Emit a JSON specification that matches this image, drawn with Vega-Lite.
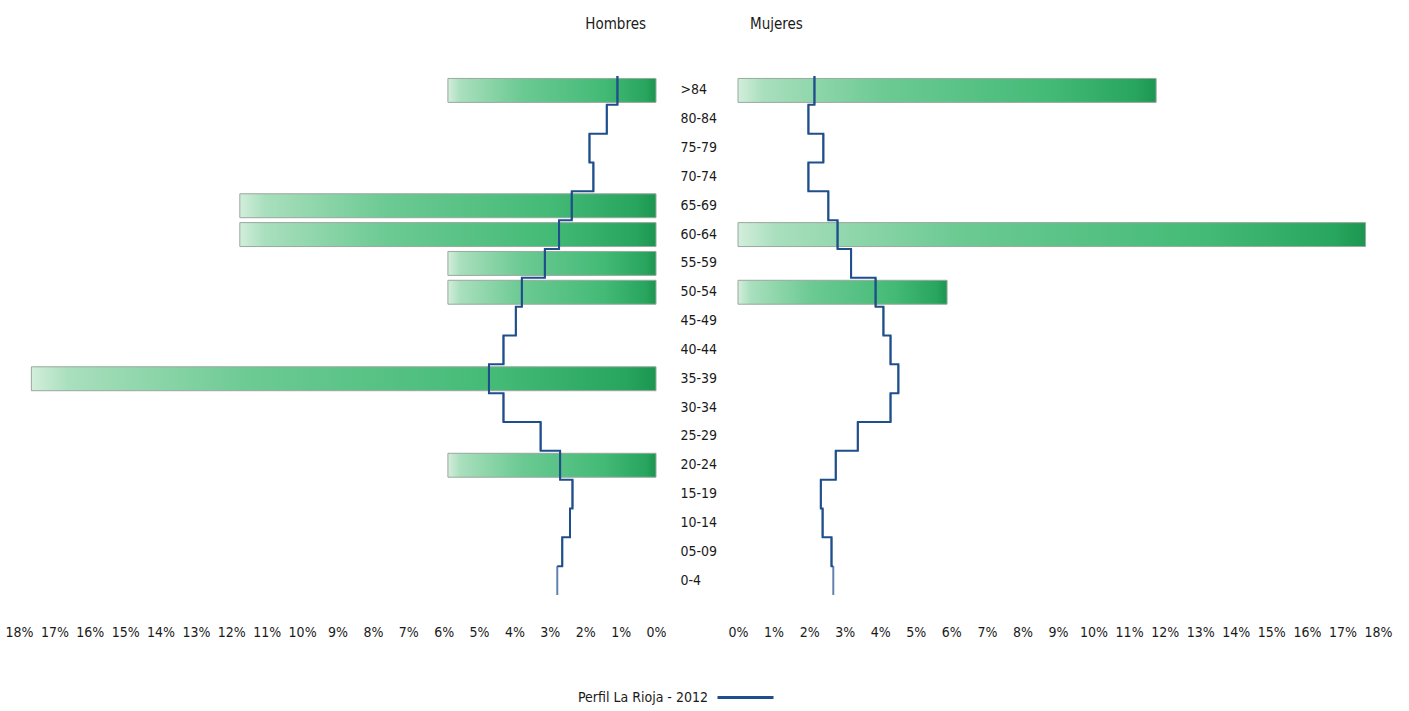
{
  "$schema": "https://vega.github.io/schema/vega-lite/v6.json",
  "background": "white",
  "padding": {"top": 17, "left": 5, "right": 5, "bottom": 5},
  "bounds": "flush",
  "spacing": 82,
  "config": {
    "font": "DejaVu Sans Condensed",
    "view": {"stroke": null},
    "axis": {"labelFont": "DejaVu Sans Condensed", "labelFontSize": 14, "labelColor": "#1a1a1a", "domain": false, "ticks": false, "grid": false, "title": null, "labelOverlap": false},
    "title": {"font": "DejaVu Sans Condensed", "fontSize": 15, "fontWeight": "normal", "color": "#1a1a1a"},
    "legend": {"titleFont": "DejaVu Sans Condensed", "labelFont": "DejaVu Sans Condensed"}
  },
  "datasets": {
    "bars": [
      {"edad": ">84", "sexo": "Hombres", "pct": 0.0588},
      {"edad": "65-69", "sexo": "Hombres", "pct": 0.1176},
      {"edad": "60-64", "sexo": "Hombres", "pct": 0.1176},
      {"edad": "55-59", "sexo": "Hombres", "pct": 0.0588},
      {"edad": "50-54", "sexo": "Hombres", "pct": 0.0588},
      {"edad": "35-39", "sexo": "Hombres", "pct": 0.1765},
      {"edad": "20-24", "sexo": "Hombres", "pct": 0.0588},
      {"edad": ">84", "sexo": "Mujeres", "pct": 0.1176},
      {"edad": "60-64", "sexo": "Mujeres", "pct": 0.1765},
      {"edad": "50-54", "sexo": "Mujeres", "pct": 0.0588}
    ],
    "perfil": [
      {"edad": ">84", "sexo": "Hombres", "valor": 0.0109},
      {"edad": "80-84", "sexo": "Hombres", "valor": 0.0139},
      {"edad": "75-79", "sexo": "Hombres", "valor": 0.0188},
      {"edad": "70-74", "sexo": "Hombres", "valor": 0.0177},
      {"edad": "65-69", "sexo": "Hombres", "valor": 0.0238},
      {"edad": "60-64", "sexo": "Hombres", "valor": 0.0274},
      {"edad": "55-59", "sexo": "Hombres", "valor": 0.0314},
      {"edad": "50-54", "sexo": "Hombres", "valor": 0.0379},
      {"edad": "45-49", "sexo": "Hombres", "valor": 0.0396},
      {"edad": "40-44", "sexo": "Hombres", "valor": 0.0431},
      {"edad": "35-39", "sexo": "Hombres", "valor": 0.0472},
      {"edad": "30-34", "sexo": "Hombres", "valor": 0.0431},
      {"edad": "25-29", "sexo": "Hombres", "valor": 0.0326},
      {"edad": "20-24", "sexo": "Hombres", "valor": 0.0271},
      {"edad": "15-19", "sexo": "Hombres", "valor": 0.0236},
      {"edad": "10-14", "sexo": "Hombres", "valor": 0.0243},
      {"edad": "05-09", "sexo": "Hombres", "valor": 0.0265},
      {"edad": "0-4", "sexo": "Hombres", "valor": 0.0279},
      {"edad": ">84", "sexo": "Mujeres", "valor": 0.0215},
      {"edad": "80-84", "sexo": "Mujeres", "valor": 0.0198},
      {"edad": "75-79", "sexo": "Mujeres", "valor": 0.0240},
      {"edad": "70-74", "sexo": "Mujeres", "valor": 0.0198},
      {"edad": "65-69", "sexo": "Mujeres", "valor": 0.0254},
      {"edad": "60-64", "sexo": "Mujeres", "valor": 0.0280},
      {"edad": "55-59", "sexo": "Mujeres", "valor": 0.0318},
      {"edad": "50-54", "sexo": "Mujeres", "valor": 0.0387},
      {"edad": "45-49", "sexo": "Mujeres", "valor": 0.0409},
      {"edad": "40-44", "sexo": "Mujeres", "valor": 0.0429},
      {"edad": "35-39", "sexo": "Mujeres", "valor": 0.0451},
      {"edad": "30-34", "sexo": "Mujeres", "valor": 0.0429},
      {"edad": "25-29", "sexo": "Mujeres", "valor": 0.0337},
      {"edad": "20-24", "sexo": "Mujeres", "valor": 0.0275},
      {"edad": "15-19", "sexo": "Mujeres", "valor": 0.0233},
      {"edad": "10-14", "sexo": "Mujeres", "valor": 0.0238},
      {"edad": "05-09", "sexo": "Mujeres", "valor": 0.0263},
      {"edad": "0-4", "sexo": "Mujeres", "valor": 0.0268}
    ]
  },
  "hconcat": [
    {
      "width": 637,
      "height": 519,
      "title": {"text": "Hombres", "anchor": "end", "frame": "group", "dx": -10, "offset": 40},
      "layer": [
        {
          "data": {"name": "bars"},
          "transform": [{"filter": "datum.sexo === 'Hombres'"}],
          "mark": {"type": "bar", "stroke": "#9aa89e", "strokeWidth": 1,
            "color": {"gradient": "linear", "x1": 0, "y1": 0, "x2": 1, "y2": 0,
              "stops": [{"offset": 0, "color": "#d3eedc"}, {"offset": 0.06, "color": "#a9dfbd"}, {"offset": 0.35, "color": "#6cca93"}, {"offset": 0.75, "color": "#43ba76"}, {"offset": 0.95, "color": "#28a55e"}, {"offset": 1, "color": "#1c9650"}]}},
          "encoding": {
            "y": {"field": "edad", "type": "nominal", "sort": [">84", "80-84", "75-79", "70-74", "65-69", "60-64", "55-59", "50-54", "45-49", "40-44", "35-39", "30-34", "25-29", "20-24", "15-19", "10-14", "05-09", "0-4"],
              "scale": {"type": "band", "paddingInner": 0.17, "paddingOuter": 0.085},
              "axis": {"orient": "right", "labelAlign": "left", "labelPadding": 24, "labelOverlap": false}},
            "x": {"field": "pct", "type": "quantitative", "scale": {"domain": [0, 0.18], "reverse": true, "nice": false},
              "axis": {"values": [0, 0.01, 0.02, 0.03, 0.04, 0.05, 0.06, 0.07, 0.08, 0.09, 0.1, 0.11, 0.12, 0.13, 0.14, 0.15, 0.16, 0.17, 0.18], "format": ".0%", "labelPadding": 30, "labelFlush": false, "labelOverlap": false}}
          }
        },
        {
          "data": {"name": "perfil"},
          "transform": [{"filter": "datum.sexo === 'Hombres'"}],
          "mark": {"type": "line", "interpolate": "step-before", "strokeWidth": 2},
          "encoding": {
            "y": {"field": "edad", "type": "nominal", "sort": [">84", "80-84", "75-79", "70-74", "65-69", "60-64", "55-59", "50-54", "45-49", "40-44", "35-39", "30-34", "25-29", "20-24", "15-19", "10-14", "05-09", "0-4"], "bandPosition": -0.1024,
              "axis": {"orient": "right", "labelAlign": "left", "labelPadding": 24, "labelOverlap": false}},
            "x": {"field": "valor", "type": "quantitative",
              "axis": {"values": [0, 0.01, 0.02, 0.03, 0.04, 0.05, 0.06, 0.07, 0.08, 0.09, 0.1, 0.11, 0.12, 0.13, 0.14, 0.15, 0.16, 0.17, 0.18], "format": ".0%", "labelPadding": 30, "labelFlush": false, "labelOverlap": false}},
            "order": {"value": null},
            "color": {"datum": "Perfil La Rioja - 2012", "type": "nominal", "scale": {"range": ["#1f4e8c"]},
              "legend": {"orient": "none", "legendX": 559, "legendY": 592, "title": "Perfil La Rioja - 2012", "titleOrient": "left", "titleAnchor": "middle", "titleFontSize": 14, "titleFontWeight": "normal", "titleColor": "#1a1a1a", "titleBaseline": "line-top", "titleLineHeight": 24, "titlePadding": 8, "labelExpr": "''", "symbolType": "stroke", "symbolSize": 3136, "symbolStrokeWidth": 3}}
          }
        },
        {
          "data": {"name": "perfil"},
          "transform": [{"filter": "datum.sexo === 'Hombres'"}],
          "mark": {"type": "tick", "size": 28.8, "thickness": 2, "color": "#1f4e8c"},
          "encoding": {
            "y": {"field": "edad", "type": "nominal", "sort": [">84", "80-84", "75-79", "70-74", "65-69", "60-64", "55-59", "50-54", "45-49", "40-44", "35-39", "30-34", "25-29", "20-24", "15-19", "10-14", "05-09", "0-4"],
              "axis": {"orient": "right", "labelAlign": "left", "labelPadding": 24, "labelOverlap": false}},
            "x": {"field": "valor", "type": "quantitative",
              "axis": {"values": [0, 0.01, 0.02, 0.03, 0.04, 0.05, 0.06, 0.07, 0.08, 0.09, 0.1, 0.11, 0.12, 0.13, 0.14, 0.15, 0.16, 0.17, 0.18], "format": ".0%", "labelPadding": 30, "labelFlush": false, "labelOverlap": false}}
          }
        }
      ]
    },
    {
      "width": 640,
      "height": 519,
      "title": {"text": "Mujeres", "anchor": "start", "frame": "group", "dx": 12, "offset": 40},
      "layer": [
        {
          "data": {"name": "bars"},
          "transform": [{"filter": "datum.sexo === 'Mujeres'"}],
          "mark": {"type": "bar", "stroke": "#9aa89e", "strokeWidth": 1,
            "color": {"gradient": "linear", "x1": 0, "y1": 0, "x2": 1, "y2": 0,
              "stops": [{"offset": 0, "color": "#d3eedc"}, {"offset": 0.06, "color": "#a9dfbd"}, {"offset": 0.35, "color": "#6cca93"}, {"offset": 0.75, "color": "#43ba76"}, {"offset": 0.95, "color": "#28a55e"}, {"offset": 1, "color": "#1c9650"}]}},
          "encoding": {
            "y": {"field": "edad", "type": "nominal", "sort": [">84", "80-84", "75-79", "70-74", "65-69", "60-64", "55-59", "50-54", "45-49", "40-44", "35-39", "30-34", "25-29", "20-24", "15-19", "10-14", "05-09", "0-4"],
              "scale": {"type": "band", "paddingInner": 0.17, "paddingOuter": 0.085},
              "axis": null},
            "x": {"field": "pct", "type": "quantitative", "scale": {"domain": [0, 0.18], "nice": false},
              "axis": {"values": [0, 0.01, 0.02, 0.03, 0.04, 0.05, 0.06, 0.07, 0.08, 0.09, 0.1, 0.11, 0.12, 0.13, 0.14, 0.15, 0.16, 0.17, 0.18], "format": ".0%", "labelPadding": 30, "labelFlush": false, "labelOverlap": false}}
          }
        },
        {
          "data": {"name": "perfil"},
          "transform": [{"filter": "datum.sexo === 'Mujeres'"}],
          "mark": {"type": "line", "interpolate": "step-before", "strokeWidth": 2},
          "encoding": {
            "y": {"field": "edad", "type": "nominal", "sort": [">84", "80-84", "75-79", "70-74", "65-69", "60-64", "55-59", "50-54", "45-49", "40-44", "35-39", "30-34", "25-29", "20-24", "15-19", "10-14", "05-09", "0-4"], "bandPosition": -0.1024, "axis": null},
            "x": {"field": "valor", "type": "quantitative",
              "axis": {"values": [0, 0.01, 0.02, 0.03, 0.04, 0.05, 0.06, 0.07, 0.08, 0.09, 0.1, 0.11, 0.12, 0.13, 0.14, 0.15, 0.16, 0.17, 0.18], "format": ".0%", "labelPadding": 30, "labelFlush": false, "labelOverlap": false}},
            "order": {"value": null},
            "color": {"datum": "Perfil La Rioja - 2012", "type": "nominal"}
          }
        },
        {
          "data": {"name": "perfil"},
          "transform": [{"filter": "datum.sexo === 'Mujeres'"}],
          "mark": {"type": "tick", "size": 28.8, "thickness": 2, "color": "#1f4e8c"},
          "encoding": {
            "y": {"field": "edad", "type": "nominal", "sort": [">84", "80-84", "75-79", "70-74", "65-69", "60-64", "55-59", "50-54", "45-49", "40-44", "35-39", "30-34", "25-29", "20-24", "15-19", "10-14", "05-09", "0-4"], "axis": null},
            "x": {"field": "valor", "type": "quantitative",
              "axis": {"values": [0, 0.01, 0.02, 0.03, 0.04, 0.05, 0.06, 0.07, 0.08, 0.09, 0.1, 0.11, 0.12, 0.13, 0.14, 0.15, 0.16, 0.17, 0.18], "format": ".0%", "labelPadding": 30, "labelFlush": false, "labelOverlap": false}}
          }
        }
      ]
    }
  ]
}
